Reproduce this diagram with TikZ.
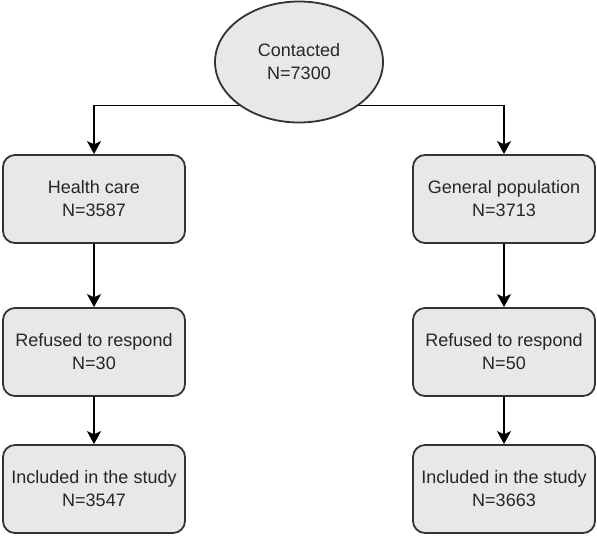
\documentclass[tikz,border=0pt]{standalone}
\usepackage{fontspec}
\setmainfont{Liberation Sans}
\usetikzlibrary{arrows.meta}
\usetikzlibrary{shapes.geometric}

\begin{document}
\begin{tikzpicture}[x=0.5pt, y=-0.5pt,
	stagebox/.style={draw=black!80, fill=black!9, line width=0.9pt, rounded corners=6pt,
		minimum width=91pt, minimum height=44pt, align=center, text=black!85,
		font=\fontsize{9}{11.5}\selectfont},
	startnode/.style={ellipse, draw=black!80, fill=black!9, line width=0.9pt,
		minimum width=84pt, minimum height=60.5pt, inner sep=0pt, align=center, text=black!85,
		font=\fontsize{9}{11.5}\selectfont},
	flow/.style={line width=0.9pt, draw=black, -{Stealth[length=6.5pt, width=7pt, inset=1.6pt]}}
	]

	% frame of the picture
	\useasboundingbox (0,0) rectangle (597,536);

	% top node
	\node[startnode] (contacted) at (299,62) {Contacted\\N=7300};

	% left branch
	\node[stagebox] (health) at (94,199) {Health care\\N=3587};
	\node[stagebox] (refusedH) at (94,352) {Refused to respond\\N=30};
	\node[stagebox] (includedH) at (94,489) {Included in the study\\N=3547};

	% right branch
	\node[stagebox] (general) at (504,199) {General population\\N=3713};
	\node[stagebox] (refusedG) at (504,352) {Refused to respond\\N=50};
	\node[stagebox] (includedG) at (504,489) {Included in the study\\N=3663};

	% connectors
	\draw[flow] (contacted.south west) -| (health.north);
	\draw[flow] (contacted.south east) -| (general.north);
	\draw[flow] (health) -- (refusedH);
	\draw[flow] (refusedH) -- (includedH);
	\draw[flow] (general) -- (refusedG);
	\draw[flow] (refusedG) -- (includedG);

\end{tikzpicture}
\end{document}
